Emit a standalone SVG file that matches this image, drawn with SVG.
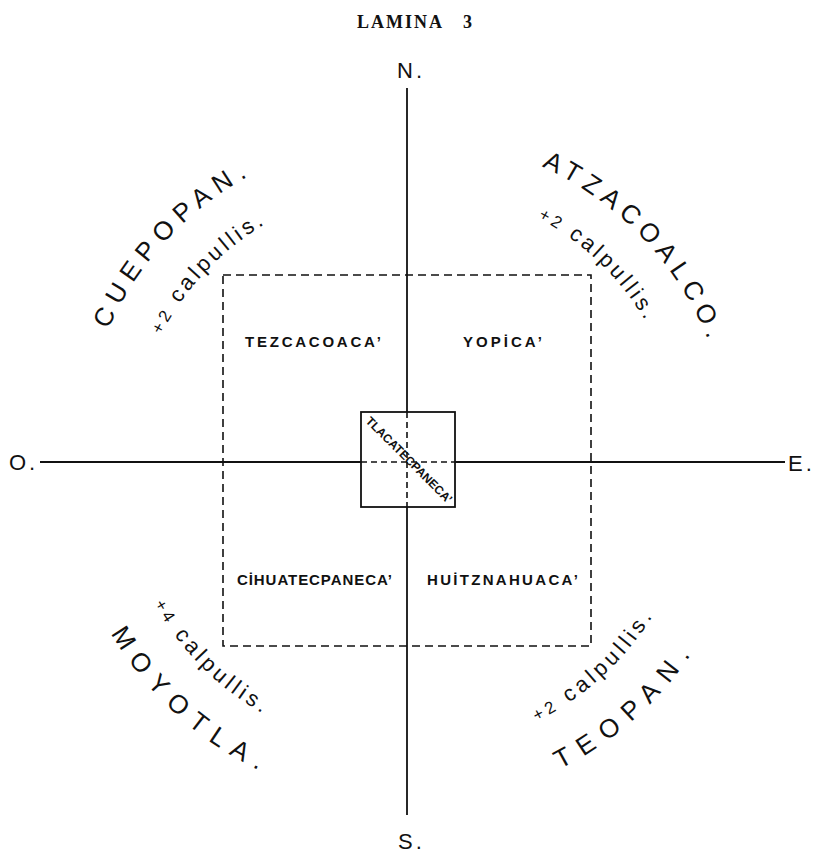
<svg xmlns="http://www.w3.org/2000/svg" width="815" height="861" viewBox="0 0 815 861">
<style>
.ax{stroke:#111;stroke-width:1.8;fill:none}
.dash{stroke:#111;stroke-width:1.6;fill:none;stroke-dasharray:8 5}
.idash{stroke:#111;stroke-width:1.6;fill:none;stroke-dasharray:6 4}
.box{stroke:#111;stroke-width:1.8;fill:none}
.big{font-family:"Liberation Sans",Arial,sans-serif;font-size:26px;fill:#111}
.cal{font-family:"Liberation Sans",Arial,sans-serif;font-size:22px;fill:#111}
.pl{font-size:17px}
.lab{font-family:"Liberation Sans",Arial,sans-serif;font-size:15px;font-weight:bold;fill:#111}
.tl{font-family:"Liberation Sans",Arial,sans-serif;font-size:12px;font-weight:bold;fill:#111}
.cmp{font-family:"Liberation Sans",Arial,sans-serif;font-size:22px;fill:#111}
.ttl{font-family:"Liberation Serif","Times New Roman",serif;font-size:18px;font-weight:bold;fill:#111}
</style>
<defs>
<path id="p1" d="M 95.2 557.3 A 325 325 0 0 1 480.3 144.4"/>
<path id="p2" d="M 141.4 540.7 A 277 277 0 0 1 471.7 192.6"/>
<path id="p3" d="M 332.5 146.7 A 323 323 0 0 1 717.3 555.1"/>
<path id="p4" d="M 330.7 195.7 A 277 277 0 0 1 675.8 529.0"/>
<path id="p5" d="M 71.5 390.7 A 344 344 0 0 0 513.0 788.2"/>
<path id="p6" d="M 126.9 386.9 A 290 290 0 0 0 482.1 742.1"/>
<path id="p7" d="M 300.7 789.2 A 345 345 0 0 0 743.5 390.5"/>
<path id="p8" d="M 319.8 738.6 A 290 290 0 0 0 690.1 399.2"/>
</defs>
<rect width="815" height="861" fill="#fff"/>
<g id="title"><text class="ttl" x="357" y="28" letter-spacing="2">LAMINA</text><text class="ttl" x="463" y="28">3</text></g>
<g id="connectors">
<line class="ax" x1="407" y1="88" x2="407" y2="412"/>
<line class="ax" x1="407" y1="507" x2="407" y2="815"/>
<line class="idash" x1="407" y1="412" x2="407" y2="507"/>
<line class="ax" x1="40" y1="462" x2="361" y2="462"/>
<line class="ax" x1="455" y1="462" x2="785" y2="462"/>
<line class="idash" x1="361" y1="462" x2="455" y2="462"/>
</g>
<g id="compass">
<text class="cmp" x="397" y="78" letter-spacing="3">N.</text>
<text class="cmp" x="398" y="849" letter-spacing="3">S.</text>
<text class="cmp" x="9" y="470" letter-spacing="3">O.</text>
<text class="cmp" x="788" y="471" letter-spacing="3">E.</text>
</g>
<g id="outer-square"><rect class="dash" x="223" y="275" width="368" height="371"/></g>
<g id="tlacatecpaneca">
<rect class="box" x="361" y="412" width="94" height="95"/>
<text class="tl" text-anchor="middle" transform="translate(409,460) rotate(45)" y="4">TLACATECPANECA’</text>
</g>
<g id="tezcacoaca"><text class="lab" x="245" y="347" textLength="136" lengthAdjust="spacing">TEZCACOACA’</text></g>
<g id="yopica"><text class="lab" x="463" y="347" textLength="79" lengthAdjust="spacing">YOPİCA’</text></g>
<g id="cihuatecpaneca"><text class="lab" x="237" y="585" textLength="155" lengthAdjust="spacing">CİHUATECPANECA’</text></g>
<g id="huitznahuaca"><text class="lab" x="427" y="585" textLength="151" lengthAdjust="spacing">HUİTZNAHUACA’</text></g>
<g id="cuepopan">
<text class="big" letter-spacing="7.4"><textPath href="#p1" startOffset="50%" text-anchor="middle">CUEPOPAN.</textPath></text>
<text class="cal" letter-spacing="3.6"><textPath href="#p2" startOffset="50%" text-anchor="middle"><tspan class="pl">+2</tspan> calpullis.</textPath></text>
</g>
<g id="atzacoalco">
<text class="big" letter-spacing="6.4"><textPath href="#p3" startOffset="50%" text-anchor="middle">ATZACOALCO.</textPath></text>
<text class="cal" letter-spacing="3.3"><textPath href="#p4" startOffset="50%" text-anchor="middle"><tspan class="pl">+2</tspan> calpullis.</textPath></text>
</g>
<g id="moyotla">
<text class="big" letter-spacing="10"><textPath href="#p5" startOffset="50%" text-anchor="middle">MOYOTLA.</textPath></text>
<text class="cal" letter-spacing="3.8"><textPath href="#p6" startOffset="50%" text-anchor="middle"><tspan class="pl">+4</tspan> calpullis.</textPath></text>
</g>
<g id="teopan">
<text class="big" letter-spacing="10.5"><textPath href="#p7" startOffset="50%" text-anchor="middle">TEOPAN.</textPath></text>
<text class="cal" letter-spacing="4"><textPath href="#p8" startOffset="50%" text-anchor="middle"><tspan class="pl">+2</tspan> calpullis.</textPath></text>
</g>
</svg>
